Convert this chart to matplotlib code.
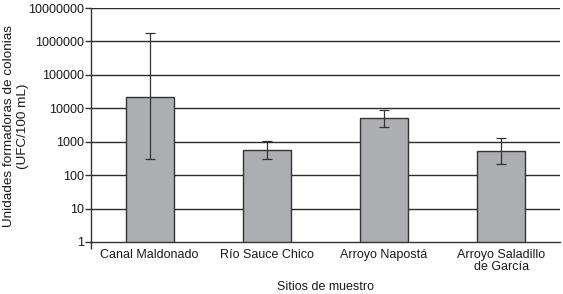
import matplotlib
matplotlib.use("Agg")
import matplotlib.pyplot as plt
import numpy as np

plt.rcParams['font.family'] = ['Liberation Sans', 'DejaVu Sans']

categories = ["Canal Maldonado", "Río Sauce Chico", "Arroyo Napostá", "Arroyo Saladillo\nde García"]
values = [22300, 553, 5020, 516]
err_low = [297, 297, 2690, 210]
err_high = [1750000, 1025, 8700, 1260]
yticks = [1, 10, 100, 1000, 10000, 100000, 1000000, 10000000]
yticklabels = ["1", "10", "100", "1000", "10000", "100000", "1000000", "10000000"]

fig = plt.figure(figsize=(5.63, 2.94), dpi=100)
ax = fig.add_axes([91/563, 1 - 242/294, (560-91)/563, (242-8)/294])

x = np.arange(len(categories))
vals = np.array(values)
lower = vals - np.array(err_low)
upper = np.array(err_high) - vals

ax.set_yscale('log')
ax.set_ylim(1, 1e7)
ax.set_xlim(-0.5, len(categories) - 0.5)

for t in yticks[1:]:
    ax.axhline(t, color='#2b2b2b', lw=1.0, zorder=1)

ax.bar(x, vals, width=0.41, color='#adaeb2', edgecolor='#333333', linewidth=1.0, zorder=2)
ax.errorbar(x, vals, yerr=[lower, upper], fmt='none', ecolor='#333333',
            elinewidth=0.9, capsize=3.5, capthick=0.9, zorder=3)

ax.set_yticks(yticks)
ax.set_yticklabels(yticklabels)
ax.minorticks_off()
ax.set_xticks(x)
ax.set_xticklabels(categories, fontsize=9, color='#1a1a1a', linespacing=1.0)
ax.tick_params(axis='x', length=0, pad=5)
ax.tick_params(axis='y', length=4, width=1, color='#333333', labelsize=9, labelcolor='#1a1a1a', pad=1)
ax.set_xticks([-0.5], minor=True)
ax.tick_params(axis='x', which='minor', length=5, width=1, color='#333333')

for s in ['top', 'right']:
    ax.spines[s].set_visible(False)
ax.spines['left'].set_color('#333333')
ax.spines['bottom'].set_color('#333333')
ax.spines['left'].set_linewidth(1)
ax.spines['bottom'].set_linewidth(1)

ax.set_xlabel("Sitios de muestro", fontsize=9, color='#1a1a1a', labelpad=6)
fig.text(16/563, 1 - 126/294, "Unidades formadoras de colonias\n(UFC/100 mL)", fontsize=9.7,
         color='#1a1a1a', rotation=90, ha='center', va='center', linespacing=1.25,
         multialignment='center')

fig.savefig("out.png", dpi=100)
